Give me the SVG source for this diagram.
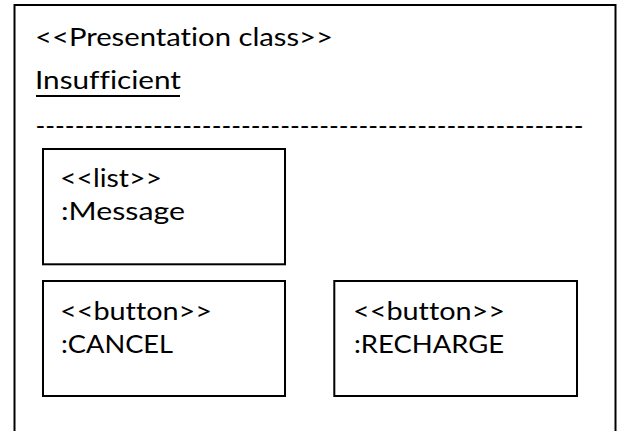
<svg xmlns="http://www.w3.org/2000/svg" width="623" height="431" viewBox="0 0 623 431">
<style>
.box{fill:#fff;stroke:#000;stroke-width:2}
.t{font-family:Lato,"Open Sans","Liberation Sans",sans-serif;font-size:25px;fill:#000;font-variant-ligatures:none}
</style>
<rect width="623" height="431" fill="#fff"/>
<g id="insufficient">
<rect class="box" x="14.5" y="5" width="601" height="440"/>
<text class="t" x="35" y="46" textLength="298" lengthAdjust="spacingAndGlyphs">&lt;&lt;Presentation class&gt;&gt;</text>
<text class="t" x="35" y="88.5" textLength="146" lengthAdjust="spacingAndGlyphs">Insufficient</text>
<line x1="36" y1="96" x2="180" y2="96" stroke="#000" stroke-width="2"/>
<text class="t" x="35.5" y="134.5" textLength="548" lengthAdjust="spacingAndGlyphs">--------------------------------------------------------</text>
</g>
<g id="message">
<rect class="box" x="43" y="149" width="242" height="115.3"/>
<text class="t" x="60" y="187.3" textLength="102" lengthAdjust="spacingAndGlyphs">&lt;&lt;list&gt;&gt;</text>
<text class="t" x="61" y="220" textLength="124" lengthAdjust="spacingAndGlyphs">:Message</text>
</g>
<g id="cancel">
<rect class="box" x="43" y="281" width="242" height="115"/>
<text class="t" x="60" y="320" textLength="152" lengthAdjust="spacingAndGlyphs">&lt;&lt;button&gt;&gt;</text>
<text class="t" x="61" y="353" textLength="112" lengthAdjust="spacingAndGlyphs">:CANCEL</text>
</g>
<g id="recharge">
<rect class="box" x="334.3" y="281" width="242.7" height="115"/>
<text class="t" x="353" y="320" textLength="152" lengthAdjust="spacingAndGlyphs">&lt;&lt;button&gt;&gt;</text>
<text class="t" x="354" y="353" textLength="150" lengthAdjust="spacingAndGlyphs">:RECHARGE</text>
</g>
</svg>
